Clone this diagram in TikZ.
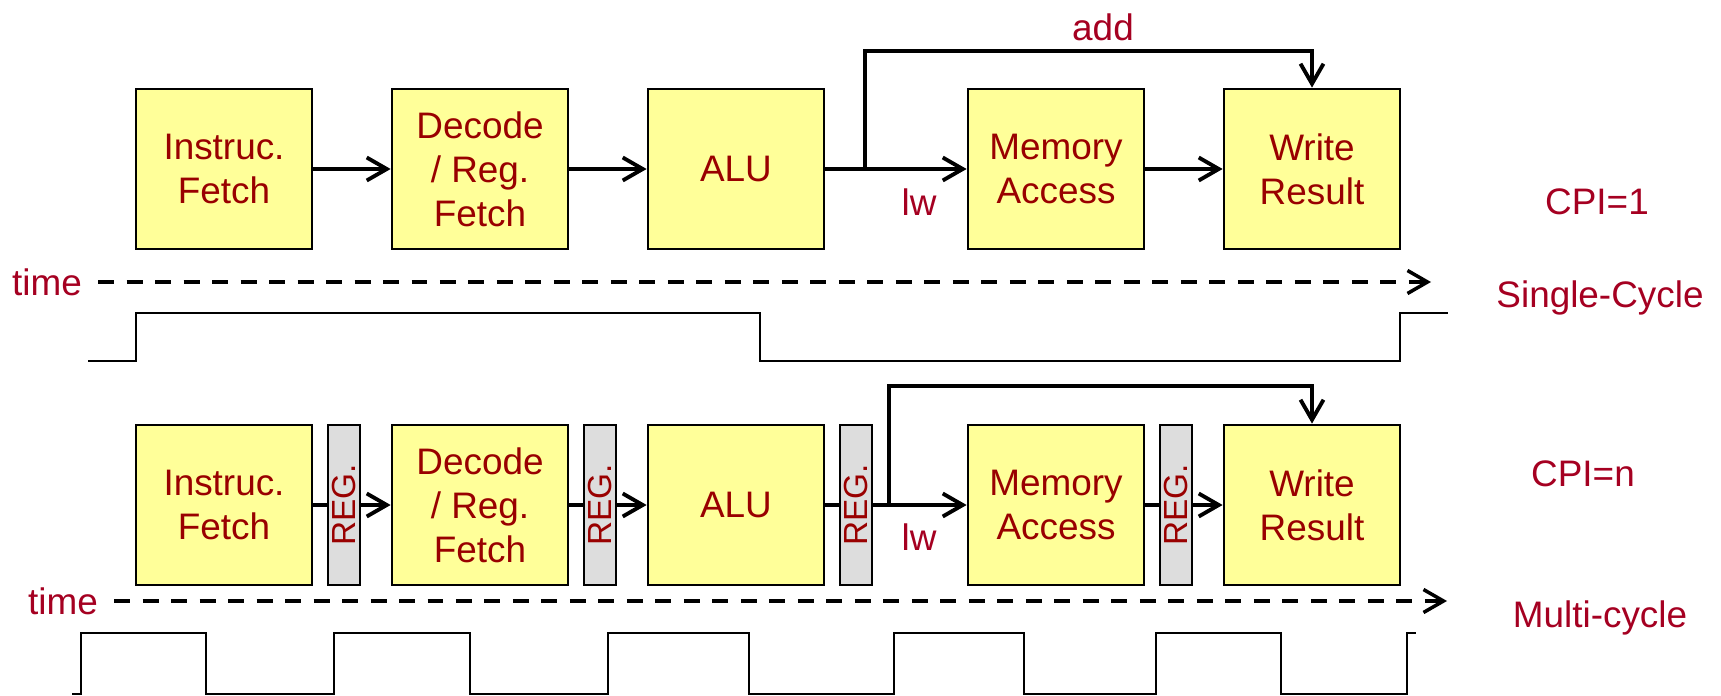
\documentclass[tikz,border=0pt]{standalone}
\usepackage{fontspec}
\setmainfont{Liberation Sans}
\usetikzlibrary{arrows.meta}
\definecolor{boxred}{HTML}{990000}
\definecolor{lblred}{HTML}{A50021}
\definecolor{stagefill}{HTML}{FFFF99}
\definecolor{regfill}{HTML}{DDDDDD}
\begin{document}
\begin{tikzpicture}[x=0.02cm, y=-0.02cm, >={Straight Barb[length=0.4cm, width=0.46cm]},
	every node/.style={font=\fontsize{21}{25}\selectfont},
	stage/.style={draw, line width=1.6pt, fill=stagefill, text=boxred, align=center, minimum width=3.52cm, minimum height=3.2cm},
	regbox/.style={draw, line width=1.6pt, fill=regfill, text=boxred, inner sep=0pt, minimum width=0.64cm, minimum height=3.2cm},
	lbl/.style={text=lblred},
	bus/.style={line width=2.2pt},
	clk/.style={line width=1pt},
	timeline/.style={line width=2pt, dash pattern=on 0.32cm off 0.25cm, shorten <=0.2cm}]
	\useasboundingbox (0,0) rectangle (1721,696);
	
	% (a) single-cycle datapath
	\begin{scope}
		\node[stage] (ifA) at (224,169) {Instruc.\\Fetch};
		\node[stage] (idA) at (480,169) {Decode\\/ Reg.\\Fetch};
		\node[stage] (exA) at (736,169) {ALU};
		\node[stage] (memA) at (1056,169) {Memory\\Access};
		\node[stage] (wbA) at (1312,169) {Write\\Result};
		\draw[bus,->] (ifA.east) -- (idA.west);
		\draw[bus,->] (idA.east) -- (exA.west);
		\draw[bus,->] (exA.east) -- (memA.west);
		\draw[bus,->] (memA.east) -- (wbA.west);
		\coordinate (brA) at (865,169);
		\draw[bus,->] (brA) -- ++(0,-118) -| (wbA.north);
		\node[lbl] (addA) at (1103,27) {add};
		\node[lbl] (lwA) at (919,202) {lw};
		\node[lbl] (cpiA) at (1597,202) {CPI=1};
		\node[lbl] (timeA) at (47,282) {time};
		\coordinate (tendA) at (1431,282);
		\draw[timeline,->] (timeA.east) -- (tendA);
		\node[lbl] (nameA) at (1600,298) {Single-Cycle};
		\draw[clk] (88,361) -- (136,361) -- (136,313) -- (760,313) -- (760,361) -- (1400,361) -- (1400,313) -- (1448,313);
	\end{scope}
	
	% (b) multi-cycle datapath
	\begin{scope}
		\node[stage] (ifB) at (224,505) {Instruc.\\Fetch};
		\node[stage] (idB) at (480,505) {Decode\\/ Reg.\\Fetch};
		\node[stage] (exB) at (736,505) {ALU};
		\node[stage] (memB) at (1056,505) {Memory\\Access};
		\node[stage] (wbB) at (1312,505) {Write\\Result};
		\foreach \n/\x in {1/344, 2/600, 3/856, 4/1176}
			\node[regbox] (reg\n) at (\x,505) {\rotatebox{90}{\fontsize{19}{19}\selectfont REG.}};
		\draw[bus] (ifB.east) -- (reg1.west);
		\draw[bus,->] (reg1.east) -- (idB.west);
		\draw[bus] (idB.east) -- (reg2.west);
		\draw[bus,->] (reg2.east) -- (exB.west);
		\draw[bus] (exB.east) -- (reg3.west);
		\draw[bus,->] (reg3.east) -- (memB.west);
		\draw[bus] (memB.east) -- (reg4.west);
		\draw[bus,->] (reg4.east) -- (wbB.west);
		\coordinate (brB) at (889,505);
		\draw[bus,->] (brB) -- ++(0,-119) -| (wbB.north);
		\node[lbl] (lwB) at (919,537) {lw};
		\node[lbl] (cpiB) at (1583,474) {CPI=n};
		\node[lbl] (timeB) at (63,601) {time};
		\coordinate (tendB) at (1447,601);
		\draw[timeline,->] (timeB.east) -- (tendB);
		\node[lbl] (nameB) at (1600,618) {Multi-cycle};
		\draw[clk] (72,694) foreach \r/\f in {81/206, 334/470, 608/749, 894/1024, 1156/1281} {
			-- (\r,694) -- (\r,633) -- (\f,633) -- (\f,694)} -- (1407,694) -- (1407,633) -- (1416,633);
	\end{scope}
\end{tikzpicture}
\end{document}
